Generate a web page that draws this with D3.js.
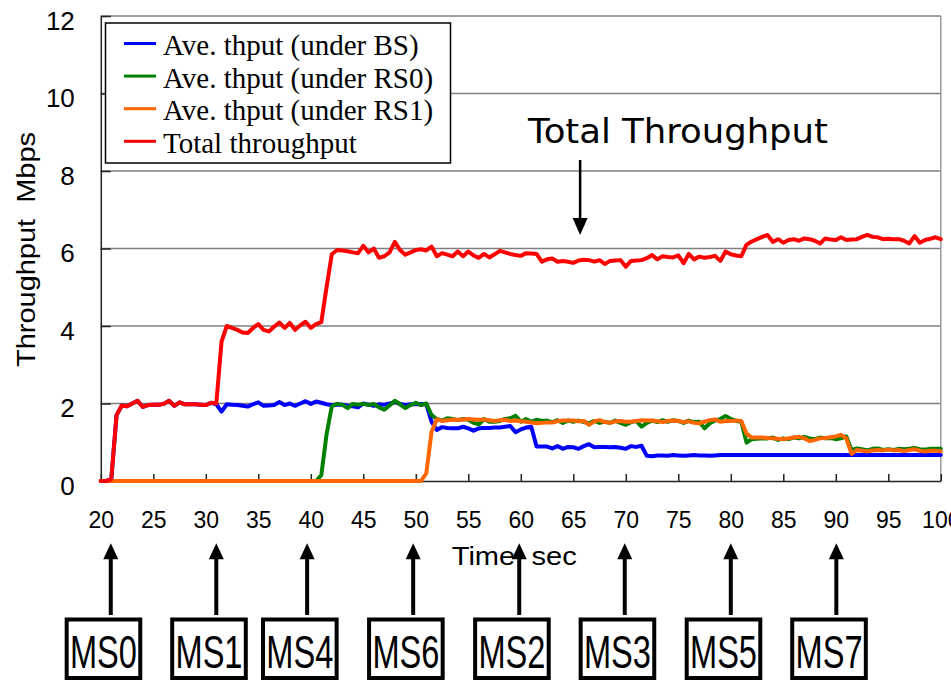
<!DOCTYPE html>
<html>
<head>
<meta charset="utf-8">
<script src="https://cdn.jsdelivr.net/npm/d3@7/dist/d3.min.js"></script>
<style>
  html, body { margin: 0; padding: 0; background: #fff; overflow: hidden; }
  svg { display: block; }
  text { white-space: pre; }
</style>
</head>
<body>
<svg id="chart" width="951" height="680"></svg>
<script>
// Throughput measured every 0.5 s, from 20 s to 100 s
const timeSec = d3.range(20, 100.25, 0.5);

// Average throughput of mobile stations attached to the base station (Mbps)
const bsThput = [
  0, 0, 0.05, 1.7, 1.95, 1.93, 2.0, 2.07, 1.91, 1.96,
  1.97, 1.97, 1.99, 2.07, 1.94, 2.03, 1.98, 1.98, 1.98, 1.97,
  1.96, 2.02, 1.98, 1.79, 1.98, 1.97, 1.96, 1.94, 1.92, 1.98,
  2.03, 1.94, 1.95, 1.96, 2.04, 1.96, 2.0, 1.94, 2.0, 2.06,
  1.99, 2.05, 2.02, 1.98, 1.96, 1.97, 1.97, 1.94, 1.93, 1.9,
  2.0, 1.97, 1.94, 1.98, 1.97, 2.0, 2.03, 1.99, 1.96, 1.98,
  1.98, 1.99, 1.98, 1.53, 1.32, 1.39, 1.37, 1.36, 1.36, 1.4,
  1.36, 1.3, 1.36, 1.37, 1.37, 1.38, 1.38, 1.4, 1.42, 1.26,
  1.33, 1.38, 1.4, 0.89, 0.89, 0.89, 0.84, 0.9, 0.83, 0.88,
  0.87, 0.83, 0.9, 0.95, 0.87, 0.88, 0.88, 0.87, 0.88, 0.86,
  0.83, 0.9, 0.88, 0.91, 0.65, 0.64, 0.66, 0.66, 0.65, 0.67,
  0.66, 0.65, 0.66, 0.67, 0.66, 0.66, 0.65, 0.66, 0.67, 0.67,
  0.67, 0.67, 0.67, 0.67, 0.67, 0.67, 0.67, 0.67, 0.67, 0.67,
  0.67, 0.67, 0.67, 0.67, 0.67, 0.67, 0.67, 0.67, 0.67, 0.67,
  0.67, 0.67, 0.67, 0.67, 0.67, 0.67, 0.67, 0.67, 0.67, 0.67,
  0.67, 0.67, 0.67, 0.67, 0.67, 0.67, 0.67, 0.67, 0.67, 0.67,
  0.67
];

// Average throughput under relay station RS0 (Mbps)
const rs0Thput = [
  0, 0, 0, 0, 0, 0, 0, 0, 0, 0,
  0, 0, 0, 0, 0, 0, 0, 0, 0, 0,
  0, 0, 0, 0, 0, 0, 0, 0, 0, 0,
  0, 0, 0, 0, 0, 0, 0, 0, 0, 0,
  0, 0, 0.15, 1.2, 1.93, 1.99, 1.97, 1.88, 1.99, 1.97,
  1.99, 1.96, 1.99, 1.9, 1.84, 1.95, 2.07, 1.98, 1.88, 1.96,
  2.02, 1.96, 2.0, 1.7, 1.6, 1.56, 1.62, 1.6, 1.57, 1.6,
  1.58, 1.5, 1.46, 1.6, 1.53, 1.53, 1.55, 1.6, 1.62, 1.68,
  1.53, 1.6, 1.53, 1.58, 1.55, 1.56, 1.52, 1.57, 1.5, 1.56,
  1.53, 1.56, 1.52, 1.49, 1.55, 1.5, 1.53, 1.5, 1.56, 1.5,
  1.45, 1.52, 1.55, 1.4, 1.5, 1.56, 1.52, 1.57, 1.53, 1.57,
  1.55, 1.5, 1.56, 1.52, 1.53, 1.36, 1.49, 1.56, 1.6, 1.68,
  1.6, 1.55, 1.53, 0.99, 1.08, 1.09, 1.1, 1.1, 1.12, 1.06,
  1.1, 1.08, 1.12, 1.1, 1.14, 1.1, 1.08, 1.12, 1.1, 1.11,
  1.08, 1.1, 1.15, 0.8, 0.84, 0.82, 0.79, 0.83, 0.84, 0.8,
  0.82, 0.8, 0.83, 0.82, 0.83, 0.85, 0.82, 0.81, 0.83, 0.83,
  0.83
];

// Average throughput under relay station RS1 (Mbps)
const rs1Thput = [
  0, 0, 0, 0, 0, 0, 0, 0, 0, 0,
  0, 0, 0, 0, 0, 0, 0, 0, 0, 0,
  0, 0, 0, 0, 0, 0, 0, 0, 0, 0,
  0, 0, 0, 0, 0, 0, 0, 0, 0, 0,
  0, 0, 0, 0, 0, 0, 0, 0, 0, 0,
  0, 0, 0, 0, 0, 0, 0, 0, 0, 0,
  0, 0, 0.2, 1.27, 1.59, 1.55, 1.57, 1.58, 1.58, 1.59,
  1.6, 1.59, 1.58, 1.59, 1.57, 1.55, 1.57, 1.58, 1.55, 1.56,
  1.54, 1.53, 1.51, 1.49, 1.5, 1.51, 1.51, 1.54, 1.56, 1.56,
  1.56, 1.54, 1.55, 1.45, 1.54, 1.57, 1.52, 1.5, 1.54, 1.55,
  1.53, 1.53, 1.55, 1.57, 1.56, 1.56, 1.54, 1.52, 1.55, 1.56,
  1.55, 1.52, 1.54, 1.5, 1.49, 1.53, 1.57, 1.59, 1.53, 1.55,
  1.55, 1.56, 1.55, 1.22, 1.12, 1.12, 1.12, 1.11, 1.1, 1.09,
  1.08, 1.1, 1.12, 1.14, 1.1, 1.03, 1.06, 1.1, 1.11, 1.13,
  1.15, 1.19, 1.1, 0.7, 0.8, 0.78, 0.76, 0.79, 0.8, 0.79,
  0.81, 0.79, 0.8, 0.77, 0.8, 0.82, 0.78, 0.76, 0.78, 0.78,
  0.77
];

// Total throughput of the cell (Mbps)
const totalThput = [
  0, 0, 0.05, 1.7, 1.95, 1.93, 2.0, 2.07, 1.91, 1.96,
  1.97, 1.97, 1.99, 2.07, 1.94, 2.03, 1.98, 1.98, 1.98, 1.97,
  1.96, 2.02, 2.0, 3.6, 4.0, 3.95, 3.9, 3.83, 3.82, 3.95,
  4.05, 3.9, 3.86, 3.98, 4.09, 3.95, 4.08, 3.9, 4.02, 4.11,
  3.95, 4.05, 4.1, 5.0, 5.85, 5.96, 5.95, 5.93, 5.9, 5.88,
  6.07, 5.9, 6.0, 5.76, 5.8, 5.9, 6.17, 5.96, 5.84, 5.9,
  5.96, 5.98, 5.95, 6.05, 5.8, 5.88, 5.84, 5.8, 5.92, 5.8,
  5.92, 5.82, 5.76, 5.86, 5.77, 5.85, 5.94, 5.9, 5.86, 5.83,
  5.81, 5.88, 5.87, 5.86, 5.66, 5.72, 5.74, 5.66, 5.68, 5.66,
  5.63, 5.69, 5.71, 5.7, 5.66, 5.7, 5.6, 5.68, 5.69, 5.7,
  5.53, 5.68, 5.69, 5.7, 5.75, 5.83, 5.72, 5.8, 5.78, 5.77,
  5.82, 5.62, 5.86, 5.72, 5.79, 5.76, 5.78, 5.81, 5.68, 5.92,
  5.85, 5.82, 5.8, 6.1, 6.18, 6.24, 6.3, 6.35, 6.17, 6.24,
  6.15, 6.22, 6.24, 6.2, 6.26, 6.24, 6.2, 6.13, 6.26, 6.23,
  6.22, 6.29, 6.22, 6.23, 6.24, 6.3, 6.35, 6.3, 6.29, 6.24,
  6.25, 6.24, 6.24, 6.2, 6.13, 6.32, 6.15, 6.22, 6.25, 6.29,
  6.24
];

const seriesNames = ["Ave. thput (under BS)", "Ave. thput (under RS0)", "Ave. thput (under RS1)", "Total throughput"];
const seriesColors = ["#0000ff", "#008000", "#ff6600", "#ff0000"];
const seriesValues = [bsThput, rs0Thput, rs1Thput, totalThput];

const xTicks = d3.range(20, 101, 5);
const yTicks = [0, 2, 4, 6, 8, 10, 12];

// Times at which each mobile station joins, and their labels
const joinNames = ["MS0", "MS1", "MS4", "MS6", "MS2", "MS3", "MS5", "MS7"];
const joinTimes = [20.95, 31, 39.65, 49.75, 59.85, 69.9, 80, 90.05];
const totalNoteTime = 65.65;

const svg = d3.select("#chart");
const x = d3.scaleLinear().domain([20, 100]).range([100.8, 940.8]);
const y = d3.scaleLinear().domain([0, 12]).range([481, 16]);

// Horizontal gridlines and right border
svg.append("g").selectAll("line").data(yTicks.filter(v => v > 0)).join("line")
  .attr("x1", x(20)).attr("x2", x(100))
  .attr("y1", d => y(d)).attr("y2", d => y(d))
  .attr("stroke", "#7f7f7f").attr("stroke-width", 1.5);
svg.append("line")
  .attr("x1", x(100)).attr("x2", x(100)).attr("y1", y(12)).attr("y2", y(0))
  .attr("stroke", "#9a9a9a").attr("stroke-width", 1.5);

// Axes with inward ticks
const yAxis = svg.append("g").attr("transform", `translate(${x(20)},0)`)
  .call(d3.axisLeft(y).tickValues(yTicks).tickSize(-10).tickSizeOuter(0).tickPadding(26));
yAxis.selectAll("text").attr("dy", "0.5em")
  .style("font-family", "'Liberation Sans', Arial, sans-serif").style("font-size", "26px").attr("fill", "#000");

const xAxis = svg.append("g").attr("transform", `translate(0,${y(0)})`)
  .call(d3.axisBottom(x).tickValues(xTicks).tickSize(-7).tickSizeOuter(0).tickPadding(31).tickFormat(d3.format("d")));
xAxis.selectAll("text")
  .style("font-family", "'Liberation Sans', Arial, sans-serif").style("font-size", "23px").attr("fill", "#000");

[yAxis, xAxis].forEach(a => {
  a.select(".domain").attr("stroke", "#222").attr("stroke-width", 1.5);
  a.selectAll(".tick line").attr("stroke", "#222").attr("stroke-width", 1.5);
});

// Data lines
const line = d3.line().x((d, i) => x(timeSec[i])).y(d => y(d));
svg.append("g").selectAll("path").data(seriesValues).join("path")
  .attr("d", d => line(d))
  .attr("fill", "none")
  .attr("stroke", (d, i) => seriesColors[i])
  .attr("stroke-width", 4)
  .attr("stroke-linejoin", "round")
  .attr("stroke-linecap", "round");

// Legend
const legend = svg.append("g");
legend.append("rect")
  .attr("x", 105.5).attr("y", 23).attr("width", 345).attr("height", 140)
  .attr("fill", "#fff").attr("stroke", "#000").attr("stroke-width", 1.5);
seriesNames.forEach((name, i) => {
  const base = 55 + i * 32.6;
  legend.append("line")
    .attr("x1", 124).attr("x2", 156).attr("y1", base - 11.5).attr("y2", base - 11.5)
    .attr("stroke", seriesColors[i]).attr("stroke-width", 3);
  legend.append("text")
    .attr("x", 163).attr("y", base)
    .style("font-family", "'Liberation Serif', 'Times New Roman', serif")
    .style("font-size", "29px")
    .text(name);
});

// Axis titles
svg.append("text")
  .attr("transform", "translate(35,249.5) rotate(-90)")
  .attr("text-anchor", "middle")
  .attr("textLength", 235).attr("lengthAdjust", "spacingAndGlyphs")
  .style("font-family", "'Liberation Sans', Arial, sans-serif").style("font-size", "26px")
  .text("Throughput  Mbps");

svg.append("text")
  .attr("x", 451.7).attr("y", 565)
  .attr("textLength", 125).attr("lengthAdjust", "spacingAndGlyphs")
  .style("font-family", "'Liberation Sans', Arial, sans-serif").style("font-size", "25px")
  .text("Time  sec");

// Total throughput note with down arrow
svg.append("text")
  .attr("x", 528).attr("y", 143)
  .attr("textLength", 300).attr("lengthAdjust", "spacingAndGlyphs")
  .style("font-family", "'DejaVu Sans', Verdana, sans-serif").style("font-size", "33px")
  .text("Total Throughput");
const nx = x(totalNoteTime);
svg.append("line").attr("x1", nx).attr("x2", nx).attr("y1", 160).attr("y2", 220)
  .attr("stroke", "#000").attr("stroke-width", 2.5);
svg.append("path")
  .attr("d", `M${nx - 7.5},218 L${nx + 7.5},218 L${nx},235 Z`).attr("fill", "#000");

// Join arrows and station boxes
const joins = svg.append("g");
joinTimes.forEach((t, i) => {
  const ax = x(t);
  const bx = ax - 7.3;
  joins.append("line").attr("x1", ax).attr("x2", ax).attr("y1", 557).attr("y2", 615)
    .attr("stroke", "#000").attr("stroke-width", 4);
  joins.append("path")
    .attr("d", `M${ax},543.3 L${ax + 7.5},559.3 L${ax - 7.5},559.3 Z`).attr("fill", "#000");
  joins.append("rect")
    .attr("x", bx - 36.8).attr("y", 619.5).attr("width", 73.6).attr("height", 58.5)
    .attr("fill", "#fff").attr("stroke", "#000").attr("stroke-width", 4);
  joins.append("text")
    .attr("x", bx).attr("y", 668).attr("text-anchor", "middle")
    .attr("textLength", 67).attr("lengthAdjust", "spacingAndGlyphs")
    .style("font-family", "'Liberation Sans', Arial, sans-serif").style("font-size", "46px")
    .text(joinNames[i]);
});
</script>
</body>
</html>
